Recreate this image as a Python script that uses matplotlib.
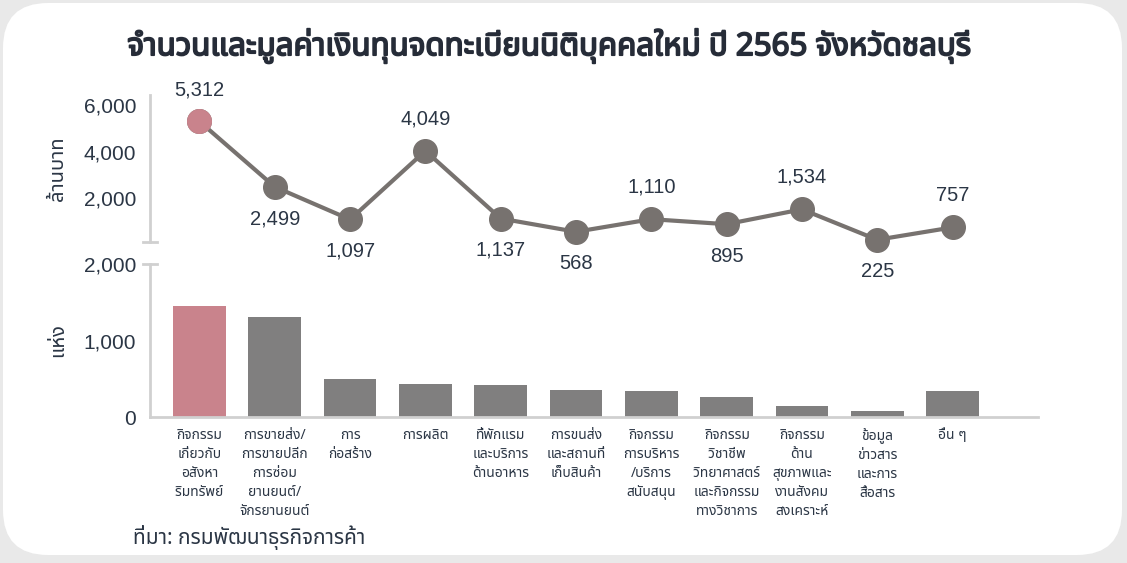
import numpy as np
import matplotlib
matplotlib.use("Agg")
import matplotlib.pyplot as plt
import matplotlib.patheffects as pe
from matplotlib import font_manager
from matplotlib.ft2font import FT2Font
from matplotlib.patches import FancyBboxPatch

# data
categories = ["กิจกรรม\nเกี่ยวกับ\nอสังหา\nริมทรัพย์",
              "การขายส่ง/\nการขายปลีก\nการซ่อม\nยานยนต์/\nจักรยานยนต์",
              "การ\nก่อสร้าง",
              "การผลิต",
              "ที่พักแรม\nและบริการ\nด้านอาหาร",
              "การขนส่ง\nและสถานที่\nเก็บสินค้า",
              "กิจกรรม\nการบริหาร\n/บริการ\nสนับสนุน",
              "กิจกรรม\nวิชาชีพ\nวิทยาศาสตร์\nและกิจกรรม\nทางวิชาการ",
              "กิจกรรม\nด้าน\nสุขภาพและ\nงานสังคม\nสงเคราะห์",
              "ข้อมูล\nข่าวสาร\nและการ\nสื่อสาร",
              "อื่น ๆ"]
capital = [5312, 2499, 1097, 4049, 1137, 568, 1110, 895, 1534, 225, 757]   # ล้านบาท
label_above = [True, False, False, True, False, False, True, False, True, False, True]
firms = [1451, 1307, 497, 431, 418, 353, 340, 261, 144, 78, 340]          # แห่ง

top_ticks = [2000, 4000, 6000]
bottom_ticks = [0, 1000, 2000]

title = "จำนวนและมูลค่าเงินทุนจดทะเบียนนิติบุคคลใหม่ ปี 2565 จังหวัดชลบุรี"
ylabel_top = "ล้านบาท"
ylabel_bottom = "แห่ง"
source = "ที่มา: กรมพัฒนาธุรกิจการค้า"


def find_thai_font():
    prefs = ['Noto Sans Thai', 'Noto Sans Thai UI', 'Noto Sans Thai Looped', 'Kanit',
             'Prompt', 'Sarabun', 'Loma', 'Garuda', 'Waree', 'Norasi', 'Tlwg Typo']
    names = {f.name for f in font_manager.fontManager.ttflist}
    for p in prefs:
        if p in names:
            return p
    for f in font_manager.fontManager.ttflist:
        try:
            if ord('ก') in FT2Font(f.fname).get_charmap():
                return f.name
        except Exception:
            pass
    return 'DejaVu Sans'


thai = find_thai_font()
num_fam = ['Liberation Sans', thai, 'DejaVu Sans']
thai_fam = [thai, 'Liberation Sans', 'DejaVu Sans']

text_col = '#2b3645'
grey = '#807f7f'
line_grey = '#77726f'
pink = '#c9838c'
spine_col = '#d0d0d0'

fig = plt.figure(figsize=(11.27, 5.63), dpi=100)
fig.patch.set_facecolor('#e9e9e9')
card = FancyBboxPatch((3 / 1127, 8 / 563), 1119 / 1127, 552 / 563,
                      boxstyle="round,pad=0,rounding_size=0.04",
                      transform=fig.transFigure, facecolor='white',
                      edgecolor='none', mutation_aspect=1127 / 563, zorder=-5)
fig.patches.append(card)

fig.text(0.487, 0.918, title, family=thai_fam, fontsize=22.5, fontweight='bold',
         color='#262c38', ha='center', va='center',
         path_effects=[pe.withStroke(linewidth=1.3, foreground='#262c38')])

x = np.arange(len(categories))
left, width = 150 / 1127, 888 / 1127
xlim = (-0.657, 11.135)

# top panel: capital line
ax1 = fig.add_axes([left, 0.5702, width, 0.2611])
ax1.set_facecolor('none')
ax1.plot(x, capital, color=line_grey, lw=3, marker='o', ms=17,
         mfc=line_grey, mec=line_grey, clip_on=False, zorder=3)
ax1.plot(x[0], capital[0], marker='o', ms=17, mfc=pink, mec=pink,
         clip_on=False, zorder=4)
for xi, v, up in zip(x, capital, label_above):
    ax1.annotate(f"{v:,}", (xi, v), xytext=(0, 23 if up else -23),
                 textcoords='offset points', ha='center', va='center',
                 fontsize=14.5, family=num_fam, color=text_col)
ax1.set_xlim(*xlim)
ax1.set_ylim(130, 6450)
ax1.set_yticks(top_ticks)
ax1.set_yticklabels([f"{t:,}" for t in top_ticks], family=num_fam,
                    fontsize=15, color=text_col)
ax1.tick_params(axis='y', length=0, pad=10)
ax1.set_xticks([])
for s in ['top', 'right', 'bottom']:
    ax1.spines[s].set_visible(False)
ax1.spines['left'].set_color(spine_col)
ax1.spines['left'].set_linewidth(2)
ax1.plot([-0.008, 0.008], [0, 0], transform=ax1.transAxes, color=spine_col,
         lw=2, clip_on=False)
ax1.set_ylabel(ylabel_top, family=thai_fam, fontsize=14.5, color=text_col,
               labelpad=11)

# bottom panel: number of firms
ax2 = fig.add_axes([left, 0.2593, width, 0.2718])
ax2.set_facecolor('none')
colors = [pink] + [grey] * (len(firms) - 1)
ax2.bar(x, firms, width=0.7, color=colors, zorder=2)
ax2.set_xlim(*xlim)
ax2.set_ylim(0, 2000)
ax2.set_yticks(bottom_ticks)
ax2.set_yticklabels([f"{t:,}" for t in bottom_ticks], family=num_fam,
                    fontsize=15, color=text_col)
ax2.tick_params(axis='y', length=0, pad=10)
ax2.set_xticks(x)
ax2.set_xticklabels(categories, family=thai_fam, fontsize=10, color=text_col,
                    linespacing=1.35, va='top')
ax2.tick_params(axis='x', length=0, pad=8)
for s in ['top', 'right']:
    ax2.spines[s].set_visible(False)
for s in ['left', 'bottom']:
    ax2.spines[s].set_color(spine_col)
    ax2.spines[s].set_linewidth(2)
ax2.plot([-0.008, 0.008], [1, 1], transform=ax2.transAxes, color=spine_col,
         lw=2, clip_on=False)
ax2.set_ylabel(ylabel_bottom, family=thai_fam, fontsize=14.5, color=text_col,
               labelpad=11)

fig.text(133 / 1127, 1 - 537 / 563, source, family=thai_fam, fontsize=15,
         color=text_col, ha='left', va='center')

fig.savefig('out.png', dpi=100, facecolor=fig.get_facecolor())
